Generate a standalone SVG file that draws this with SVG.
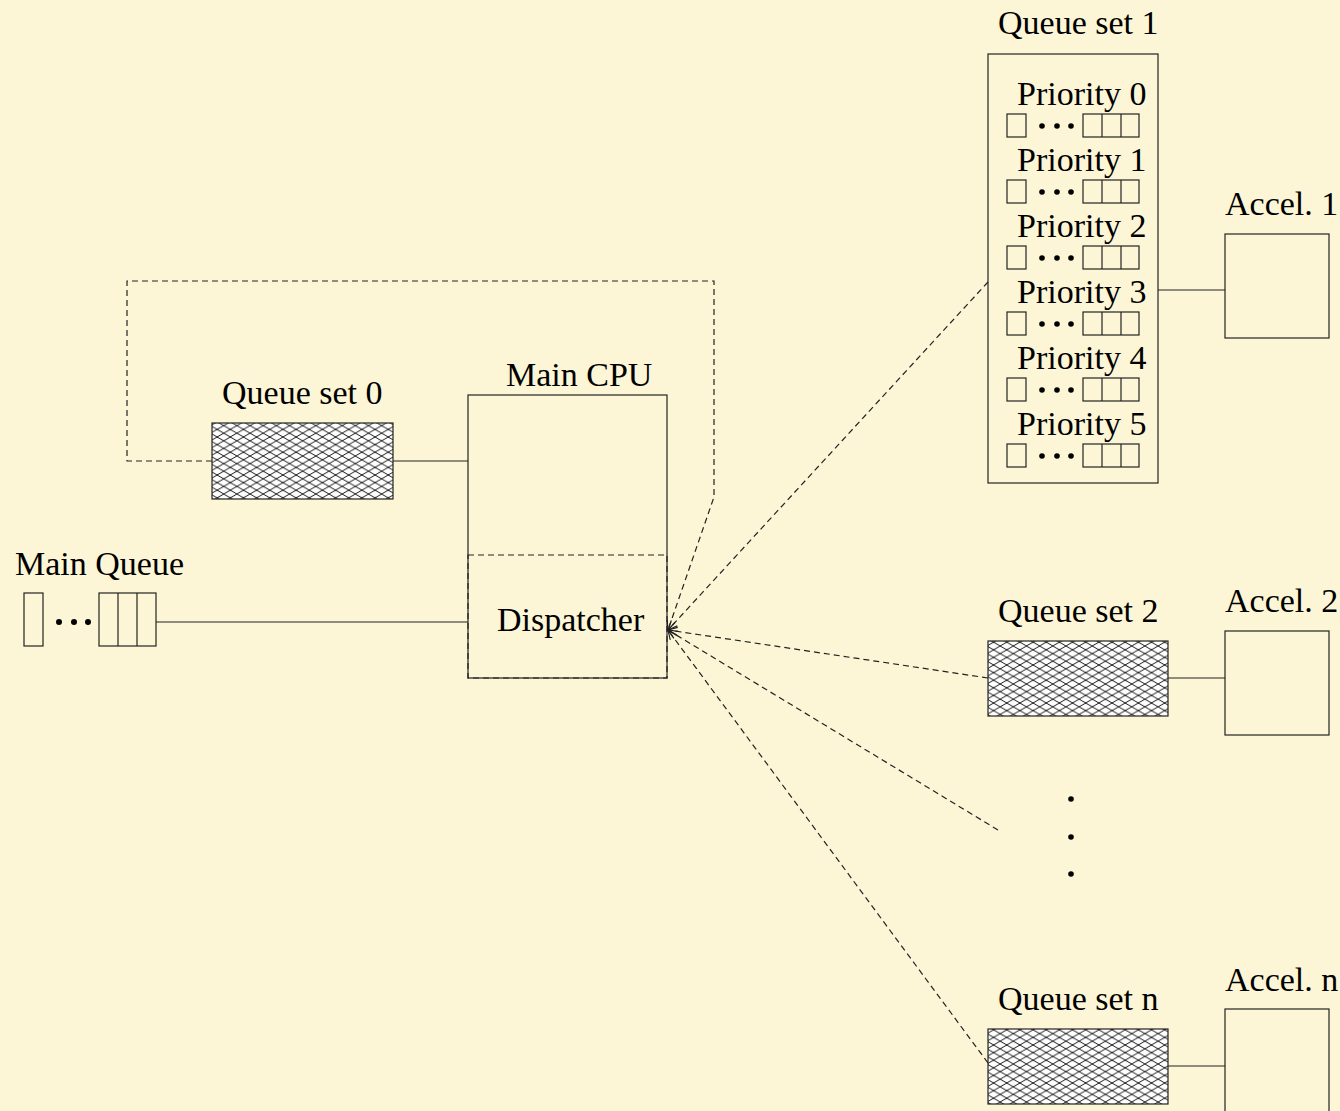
<svg xmlns="http://www.w3.org/2000/svg" width="1340" height="1111" viewBox="0 0 1340 1111">
<style>
.t{font-family:"Liberation Serif","Times New Roman",serif;font-size:34px;fill:#000}
.s{fill:none;stroke:#222;stroke-width:1.2}
.d{fill:none;stroke:#222;stroke-width:1.2;stroke-dasharray:6,4}
.h{fill:url(#hatch);stroke:#222;stroke-width:1.2}
.dot{fill:#000}
</style>
<defs>
<pattern id="hatch" patternUnits="userSpaceOnUse" width="13.16" height="7.6">
<rect width="13.16" height="7.6" fill="#fff"/>
<path d="M0,0L13.16,7.6M0,7.6L13.16,0" stroke="#000" stroke-width="0.9"/>
</pattern>
<marker id="arr" markerUnits="userSpaceOnUse" markerWidth="14" markerHeight="14" refX="10" refY="5" viewBox="0 0 12 10" orient="auto">
<path d="M2,1.5L10,5L2,8.5" fill="none" stroke="#222" stroke-width="1"/>
</marker>
</defs>
<rect width="1340" height="1111" fill="#fdf6d6"/>

<g id="connectors">
<line class="s" x1="156" y1="622" x2="468" y2="622"/>
<line class="s" x1="393" y1="461" x2="468" y2="461"/>
<line class="s" x1="1158" y1="290" x2="1225" y2="290"/>
<line class="s" x1="1168" y1="678" x2="1225" y2="678"/>
<line class="s" x1="1168" y1="1066" x2="1225" y2="1066"/>
<polyline class="d" points="212,461 127,461 127,281 714,281 714,497 668,630" marker-end="url(#arr)"/>
<line class="d" x1="988" y1="282" x2="668" y2="630" marker-end="url(#arr)"/>
<line class="d" x1="988" y1="678" x2="668" y2="630" marker-end="url(#arr)"/>
<line class="d" x1="998" y1="830" x2="668" y2="630" marker-end="url(#arr)"/>
<line class="d" x1="988" y1="1063" x2="668" y2="630" marker-end="url(#arr)"/>
</g>

<g id="main-queue">
<text class="t" x="15" y="575">Main Queue</text>
<rect class="s" x="24" y="593" width="19" height="53"/>
<circle class="dot" cx="59" cy="622" r="3"/>
<circle class="dot" cx="74" cy="622" r="3"/>
<circle class="dot" cx="88" cy="622" r="3"/>
<rect class="s" x="99" y="593" width="57" height="53"/>
<line class="s" x1="118" y1="593" x2="118" y2="646"/>
<line class="s" x1="137" y1="593" x2="137" y2="646"/>
</g>

<g id="queue-set-0">
<text class="t" x="222" y="404">Queue set 0</text>
<rect class="h" x="212" y="423" width="181" height="76"/>
</g>

<g id="main-cpu">
<text class="t" x="506" y="386">Main CPU</text>
<rect class="s" x="468" y="395" width="199" height="283"/>
</g>

<g id="dispatcher">
<rect class="d" x="468" y="555" width="199" height="123"/>
<text class="t" x="497" y="631">Dispatcher</text>
</g>

<g id="queue-set-1">
<text class="t" x="998" y="34">Queue set 1</text>
<rect class="s" x="988" y="54" width="170" height="429"/>
<g id="prio-rows">
<g>
<text class="t" x="1017" y="105">Priority 0</text>
<rect class="s" x="1007" y="114" width="19" height="23"/>
<circle class="dot" cx="1042" cy="126" r="2.8"/><circle class="dot" cx="1057" cy="126" r="2.8"/><circle class="dot" cx="1071" cy="126" r="2.8"/>
<rect class="s" x="1083" y="114" width="56" height="23"/>
<line class="s" x1="1102" y1="114" x2="1102" y2="137"/><line class="s" x1="1121" y1="114" x2="1121" y2="137"/>
</g>
<g transform="translate(0,66)">
<text class="t" x="1017" y="105">Priority 1</text>
<rect class="s" x="1007" y="114" width="19" height="23"/>
<circle class="dot" cx="1042" cy="126" r="2.8"/><circle class="dot" cx="1057" cy="126" r="2.8"/><circle class="dot" cx="1071" cy="126" r="2.8"/>
<rect class="s" x="1083" y="114" width="56" height="23"/>
<line class="s" x1="1102" y1="114" x2="1102" y2="137"/><line class="s" x1="1121" y1="114" x2="1121" y2="137"/>
</g>
<g transform="translate(0,132)">
<text class="t" x="1017" y="105">Priority 2</text>
<rect class="s" x="1007" y="114" width="19" height="23"/>
<circle class="dot" cx="1042" cy="126" r="2.8"/><circle class="dot" cx="1057" cy="126" r="2.8"/><circle class="dot" cx="1071" cy="126" r="2.8"/>
<rect class="s" x="1083" y="114" width="56" height="23"/>
<line class="s" x1="1102" y1="114" x2="1102" y2="137"/><line class="s" x1="1121" y1="114" x2="1121" y2="137"/>
</g>
<g transform="translate(0,198)">
<text class="t" x="1017" y="105">Priority 3</text>
<rect class="s" x="1007" y="114" width="19" height="23"/>
<circle class="dot" cx="1042" cy="126" r="2.8"/><circle class="dot" cx="1057" cy="126" r="2.8"/><circle class="dot" cx="1071" cy="126" r="2.8"/>
<rect class="s" x="1083" y="114" width="56" height="23"/>
<line class="s" x1="1102" y1="114" x2="1102" y2="137"/><line class="s" x1="1121" y1="114" x2="1121" y2="137"/>
</g>
<g transform="translate(0,264)">
<text class="t" x="1017" y="105">Priority 4</text>
<rect class="s" x="1007" y="114" width="19" height="23"/>
<circle class="dot" cx="1042" cy="126" r="2.8"/><circle class="dot" cx="1057" cy="126" r="2.8"/><circle class="dot" cx="1071" cy="126" r="2.8"/>
<rect class="s" x="1083" y="114" width="56" height="23"/>
<line class="s" x1="1102" y1="114" x2="1102" y2="137"/><line class="s" x1="1121" y1="114" x2="1121" y2="137"/>
</g>
<g transform="translate(0,330)">
<text class="t" x="1017" y="105">Priority 5</text>
<rect class="s" x="1007" y="114" width="19" height="23"/>
<circle class="dot" cx="1042" cy="126" r="2.8"/><circle class="dot" cx="1057" cy="126" r="2.8"/><circle class="dot" cx="1071" cy="126" r="2.8"/>
<rect class="s" x="1083" y="114" width="56" height="23"/>
<line class="s" x1="1102" y1="114" x2="1102" y2="137"/><line class="s" x1="1121" y1="114" x2="1121" y2="137"/>
</g>
</g>
</g>

<g id="accel-1">
<text class="t" x="1225" y="215">Accel. 1</text>
<rect class="s" x="1225" y="234" width="104" height="104"/>
</g>

<g id="queue-set-2">
<text class="t" x="998" y="622">Queue set 2</text>
<rect class="h" x="988" y="641" width="180" height="75"/>
</g>

<g id="accel-2">
<text class="t" x="1225" y="612">Accel. 2</text>
<rect class="s" x="1225" y="631" width="104" height="104"/>
</g>

<g id="ellipsis">
<circle class="dot" cx="1071" cy="799" r="2.8"/>
<circle class="dot" cx="1071" cy="837" r="2.8"/>
<circle class="dot" cx="1071" cy="874" r="2.8"/>
</g>

<g id="queue-set-n">
<text class="t" x="998" y="1010">Queue set n</text>
<rect class="h" x="988" y="1029" width="180" height="75"/>
</g>

<g id="accel-n">
<text class="t" x="1225" y="991">Accel. n</text>
<rect class="s" x="1225" y="1009" width="104" height="110"/>
</g>
</svg>
